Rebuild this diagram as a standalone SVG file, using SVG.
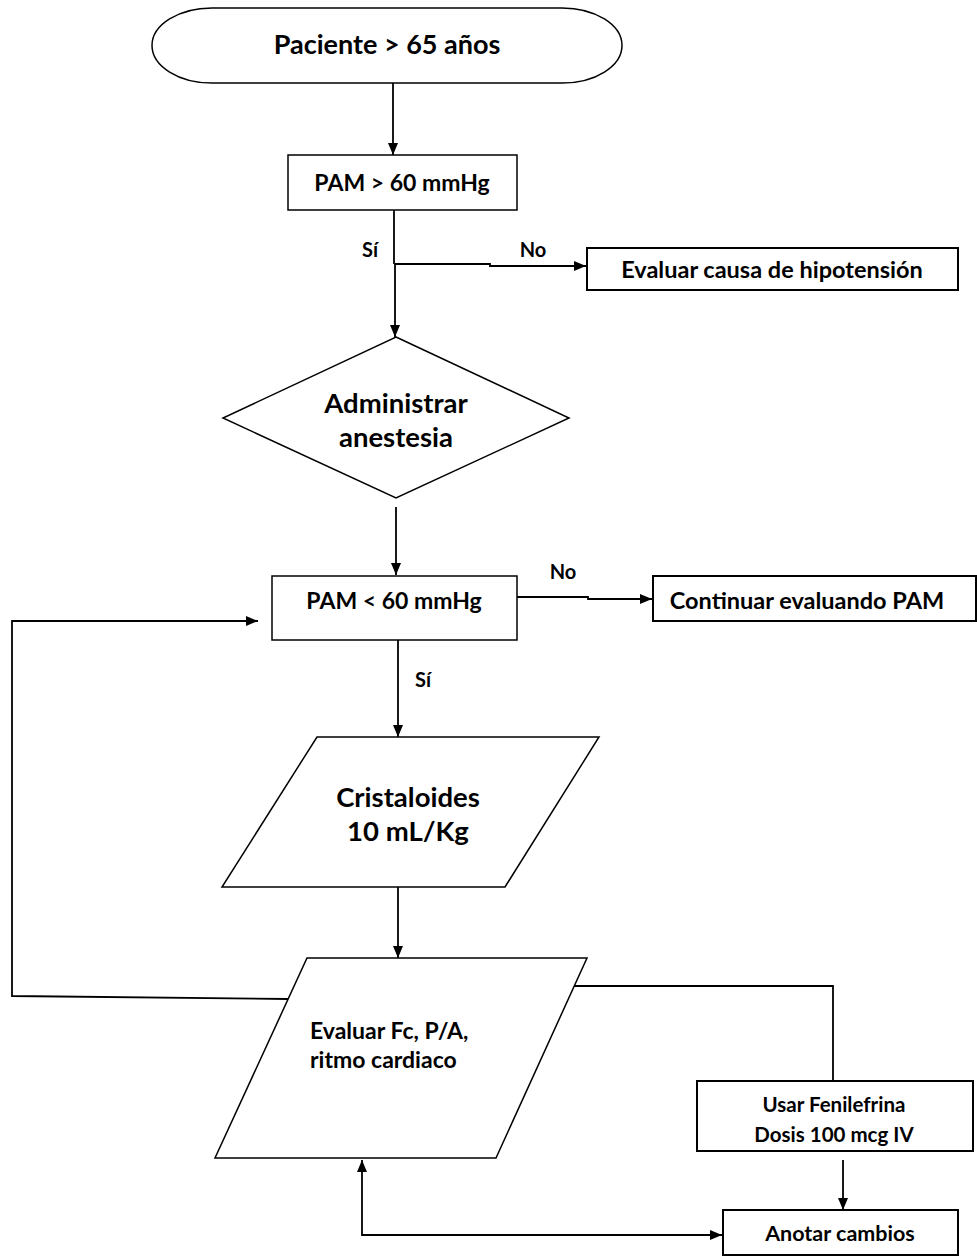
<svg xmlns="http://www.w3.org/2000/svg" width="977" height="1257" viewBox="0 0 977 1257">
<style>
.s{fill:#fff;stroke:#000;stroke-width:1.5}
.b{fill:#fff;stroke:#000;stroke-width:2}
.t{font-family:Lato,"Liberation Sans",sans-serif;font-weight:bold;fill:#000;text-anchor:middle}
.l{text-anchor:start}
.c{fill:none;stroke:#000;stroke-width:1.8}
</style>
<defs>
<marker id="ah" viewBox="0 0 12 10" refX="12" refY="5" markerWidth="12" markerHeight="10" markerUnits="userSpaceOnUse" orient="auto-start-reverse">
<path d="M0,0L12,5L0,10z" fill="#000"/>
</marker>
</defs>
<rect width="977" height="1257" fill="#fff"/>
<g id="connectors">
<path class="c" d="M393,83V155" marker-end="url(#ah)"/>
<path class="c" d="M394,210V264M395,264V337" marker-end="url(#ah)"/>
<path class="c" d="M395,264H490V266H586" marker-end="url(#ah)"/>
<path class="c" d="M396,507V575" marker-end="url(#ah)"/>
<path class="c" d="M516,597H588V599H652" marker-end="url(#ah)"/>
<path class="c" d="M288,999L12,996V621H258" marker-end="url(#ah)"/>
<path class="c" d="M398,640V737" marker-end="url(#ah)"/>
<path class="c" d="M398,887V958" marker-end="url(#ah)"/>
<path class="c" d="M569,986H833V1081"/>
<path class="c" d="M843,1160V1210" marker-end="url(#ah)"/>
<path class="c" d="M362,1160V1235H722" marker-start="url(#ah)" marker-end="url(#ah)"/>
<text class="t" x="370" y="257" font-size="20">Sí</text>
<text class="t" x="533" y="257" font-size="20">No</text>
<text class="t" x="563" y="579" font-size="20">No</text>
<text class="t" x="423" y="687" font-size="20">Sí</text>
</g>
<g id="start">
<rect class="s" x="152" y="8" width="470" height="75" rx="60" ry="37.5"/>
<text class="t" x="387" y="54" font-size="27">Paciente &gt; 65 años</text>
</g>
<g id="pam60a">
<rect class="s" x="288" y="155" width="229" height="55"/>
<text class="t" x="402" y="191" font-size="23">PAM &gt; 60 mmHg</text>
</g>
<g id="causa">
<rect class="b" x="587" y="248" width="371" height="42"/>
<text class="t" x="772" y="278" font-size="23.5">Evaluar causa de hipotensión</text>
</g>
<g id="anestesia">
<polygon class="s" points="396,337 569,418 396,498 223,418"/>
<text class="t" x="396" y="413" font-size="27.5">Administrar</text>
<text class="t" x="396" y="447" font-size="27.5">anestesia</text>
</g>
<g id="pam60b">
<rect class="s" x="272" y="576" width="245" height="64"/>
<text class="t" x="394" y="609" font-size="23">PAM &lt; 60 mmHg</text>
</g>
<g id="continuar">
<rect class="b" x="653" y="576" width="323" height="45"/>
<text class="t" x="807" y="609" font-size="23.5">Continuar evaluando PAM</text>
</g>
<g id="cristaloides">
<polygon class="s" points="317,737 599,737 505,887 222,887"/>
<text class="t" x="408" y="807" font-size="27.5">Cristaloides</text>
<text class="t" x="408" y="841" font-size="27.5">10 mL/Kg</text>
</g>
<g id="evaluar">
<polygon class="s" points="307,958 587,958 496,1158 215,1158"/>
<text class="t l" x="310" y="1039" font-size="23">Evaluar Fc, P/A,</text>
<text class="t l" x="310" y="1068" font-size="23">ritmo cardiaco</text>
</g>
<g id="fenilefrina">
<rect class="b" x="697" y="1081" width="276" height="70"/>
<text class="t" x="834" y="1112" font-size="20.5">Usar Fenilefrina</text>
<text class="t" x="834" y="1142" font-size="20.5">Dosis 100 mcg IV</text>
</g>
<g id="anotar">
<rect class="b" x="723" y="1210" width="235" height="45"/>
<text class="t" x="840" y="1241" font-size="21.5">Anotar cambios</text>
</g>
</svg>
